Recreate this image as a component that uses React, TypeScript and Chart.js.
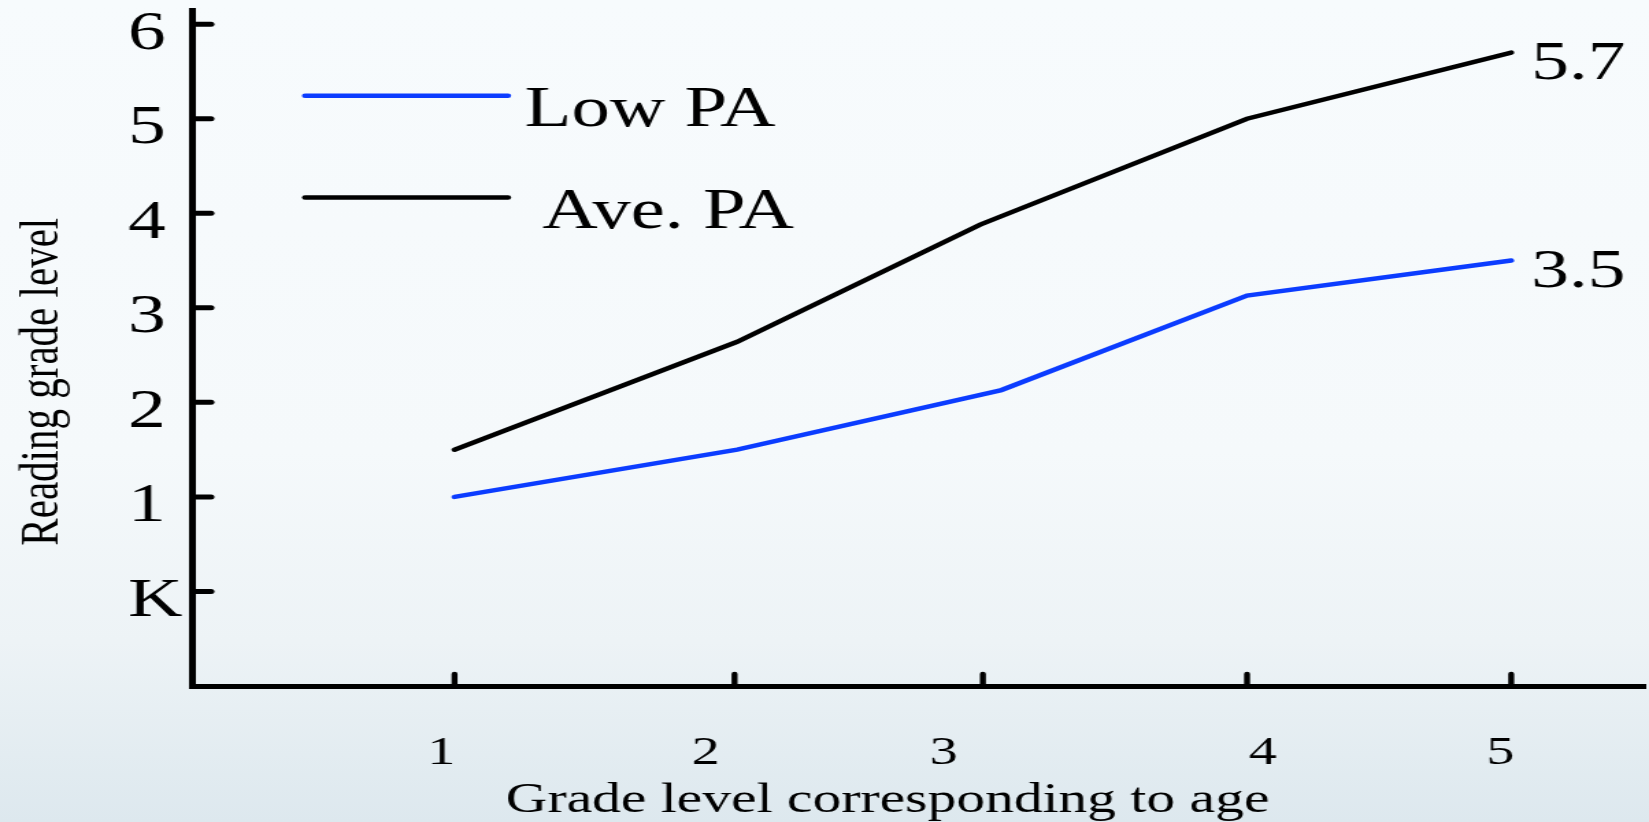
import { useEffect, useRef } from 'react';
import { Chart, registerables } from 'chart.js';

Chart.register(...registerables);

// ---- data ----
const seriesNames = ['Low PA', 'Ave. PA'];
const seriesColors = ['#0b3cff', '#000000'];
const lowPaX = [1, 2.07, 3.07, 4, 5];
const lowPaY = [1.0, 1.5, 2.13, 3.13, 3.5];
const avePaX = [1, 2.07, 2.99, 4, 5];
const avePaY = [1.5, 2.64, 3.88, 5.0, 5.7];

const gradeTickLabels = ['1', '2', '3', '4', '5'];
const gradeLabelPositions = [0.95, 1.951, 2.851, 4.059, 4.959];
const gradeTickMarks = [1, 2.06, 3, 4, 5];
const readingTickValues = [0, 1, 2, 3, 4, 5, 6];
const readingTickLabels = ['K', '1', '2', '3', '4', '5', '6'];

const xAxisTitle = 'Grade level corresponding to age';
const yAxisTitle = 'Reading grade level';

// ---- layout ----
// The drawing is laid out on a narrower canvas and widened horizontally.
const PAGE_W = 1649;
const PAGE_H = 822;
const CANVAS_W = 1204;
const SX = PAGE_W / CANVAS_W;
const cx = (px: number) => px / SX;

const FONT = "'Liberation Serif', 'Times New Roman', serif";

const legendLineY = [95.7, 197.5];
const legendTextX = [524.6, 542.5];
const legendTextBaseline = [126, 228];

const decorations = {
  id: 'decorations',
  afterDraw(chart: any) {
    const { ctx, chartArea, scales } = chart;
    const x = scales.x;
    const y = scales.y;
    ctx.save();
    ctx.strokeStyle = '#000';
    ctx.lineCap = 'round';

    // tick marks pointing into the plot
    ctx.lineWidth = 5;
    for (const v of readingTickValues) {
      const py = y.getPixelForValue(v);
      ctx.beginPath();
      ctx.moveTo(chartArea.left, py);
      ctx.lineTo(chartArea.left + cx(18), py);
      ctx.stroke();
    }
    ctx.lineWidth = cx(6);
    for (const v of gradeTickMarks) {
      const px = x.getPixelForValue(v);
      ctx.beginPath();
      ctx.moveTo(px, chartArea.bottom);
      ctx.lineTo(px, chartArea.bottom - 12);
      ctx.stroke();
    }

    // value at the end of each line
    ctx.fillStyle = '#000';
    ctx.font = `55px ${FONT}`;
    ctx.textAlign = 'left';
    ctx.textBaseline = 'middle';
    chart.data.datasets.forEach((ds: any) => {
      const last = ds.data[ds.data.length - 1];
      const px = x.getPixelForValue(last.x);
      const py = y.getPixelForValue(last.y);
      ctx.fillText(last.y.toFixed(1), px + cx(20), py + 12);
    });

    // legend
    ctx.font = `56px ${FONT}`;
    ctx.textBaseline = 'alphabetic';
    ctx.lineWidth = 4.5;
    chart.data.datasets.forEach((ds: any, i: number) => {
      ctx.strokeStyle = ds.borderColor;
      ctx.beginPath();
      ctx.moveTo(cx(305), legendLineY[i]);
      ctx.lineTo(cx(508), legendLineY[i]);
      ctx.stroke();
      ctx.fillStyle = '#000';
      ctx.fillText(ds.label, cx(legendTextX[i]), legendTextBaseline[i]);
    });

    // axis titles
    ctx.save();
    ctx.translate(cx(57.8), 381.7);
    ctx.rotate(-Math.PI / 2);
    ctx.font = `41px ${FONT}`;
    ctx.textAlign = 'center';
    ctx.textBaseline = 'alphabetic';
    ctx.fillText(yAxisTitle, 0, 0);
    ctx.restore();

    ctx.font = `42px ${FONT}`;
    ctx.textAlign = 'center';
    ctx.textBaseline = 'alphabetic';
    ctx.fillText(xAxisTitle, cx(887.6), 812);
    ctx.restore();
  },
};

export default function App() {
  const canvasRef = useRef<HTMLCanvasElement | null>(null);

  useEffect(() => {
    const canvas = canvasRef.current;
    if (!canvas) return;
    const toPoints = (xs: number[], ys: number[]) => xs.map((v, i) => ({ x: v, y: ys[i] }));
    const chart = new Chart(canvas, {
      type: 'line',
      data: {
        datasets: [
          {
            label: seriesNames[0],
            data: toPoints(lowPaX, lowPaY),
            borderColor: seriesColors[0],
            borderWidth: 4.5,
            pointRadius: 0,
            tension: 0,
            fill: false,
            borderCapStyle: 'round',
          },
          {
            label: seriesNames[1],
            data: toPoints(avePaX, avePaY),
            borderColor: seriesColors[1],
            borderWidth: 4.5,
            pointRadius: 0,
            tension: 0,
            fill: false,
            borderCapStyle: 'round',
          },
        ],
      },
      options: {
        animation: false,
        responsive: true,
        maintainAspectRatio: false,
        devicePixelRatio: 1,
        layout: { padding: { left: cx(128), top: 10, right: 0, bottom: 0 } },
        plugins: {
          legend: { display: false },
          tooltip: { enabled: false },
        },
        scales: {
          x: {
            type: 'linear',
            position: 'bottom',
            min: 0.01,
            max: 5.51,
            grid: { display: false },
            border: { display: true, color: '#000', width: 5 },
            ticks: {
              autoSkip: false,
              maxRotation: 0,
              padding: 35,
              color: '#000',
              font: { family: FONT, size: 41 },
              callback: (_v: any, i: number) => gradeTickLabels[i],
            },
            afterBuildTicks: (scale: any) => {
              scale.ticks = gradeLabelPositions.map((v) => ({ value: v }));
            },
            afterFit: (scale: any) => {
              scale.height = PAGE_H - 686;
              scale.paddingLeft = 0;
              scale.paddingRight = 0;
            },
          },
          y: {
            type: 'linear',
            position: 'left',
            min: -1,
            max: 6.15,
            grid: { display: false },
            border: { display: true, color: '#000', width: 5 },
            ticks: {
              autoSkip: false,
              crossAlign: 'far',
              labelOffset: 10,
              color: '#000',
              font: { family: FONT, size: 55 },
              callback: (v: any) => readingTickLabels[readingTickValues.indexOf(Number(v))],
            },
            afterBuildTicks: (scale: any) => {
              scale.ticks = readingTickValues.map((v) => ({ value: v }));
            },
            afterFit: (scale: any) => {
              scale.width = cx(193 - 128);
              scale.paddingTop = 0;
              scale.paddingBottom = 0;
            },
          },
        },
      },
      plugins: [decorations],
    });
    return () => chart.destroy();
  }, []);

  return (
    <div
      style={{
        position: 'fixed',
        left: 0,
        top: 0,
        width: PAGE_W,
        height: PAGE_H,
        overflow: 'hidden',
        background:
          'linear-gradient(to bottom, #f7fbfd 0%, #f5f9fb 55%, #edf3f6 78%, #dde8ee 100%)',
      }}
    >
      <div
        style={{
          position: 'relative',
          width: CANVAS_W,
          height: PAGE_H,
          transform: `scaleX(${SX})`,
          transformOrigin: '0 0',
        }}
      >
        <canvas ref={canvasRef} />
      </div>
    </div>
  );
}
